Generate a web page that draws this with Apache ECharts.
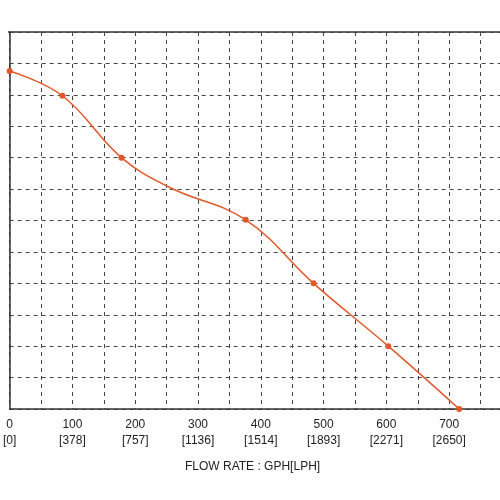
<!DOCTYPE html>
<html>
<head>
<meta charset="utf-8">
<script src="https://cdn.jsdelivr.net/npm/echarts@6/dist/echarts.min.js"></script>
<style>html,body{margin:0;padding:0;background:#fff}#c{width:500px;height:500px}</style>
</head>
<body>
<div id="c"></div>
<script>
// flow rate GPH and head values (grid units)
var flowGph = [0, 84, 178, 255, 376, 484, 603, 716];
var headVals = [10.76, 9.97, 8.0, 7.05, 6.02, 4.0, 2.0, 0];
var markedPts = [true, true, true, false, true, true, true, true];
var gphTicks = [0, 100, 200, 300, 400, 500, 600, 700, 800];
var lphTicks = ['0', '378', '757', '1136', '1514', '1893', '2271', '2650', '3028'];

var data = [];
for (var i = 0; i < flowGph.length; i++) {
  data.push({ value: [flowGph[i], headVals[i]], symbolSize: markedPts[i] ? 6 : 0 });
}

var chart = echarts.init(document.getElementById('c'));
chart.setOption({
  animation: false,
  grid: { left: 8, right: 0, top: 32, bottom: 91 },
  xAxis: {
    type: 'value', min: 0, max: 781, interval: 50,
    axisLine: { lineStyle: { color: '#333', width: 1.5 } },
    axisTick: { show: false },
    splitLine: { lineStyle: { color: '#444', type: [4, 4] } },
    axisLabel: {
      margin: 8, color: '#222', fontSize: 12, fontFamily: 'Liberation Sans', lineHeight: 16,
      showMaxLabel: false,
      formatter: function (v) {
        var k = gphTicks.indexOf(v);
        return k < 0 ? '' : v + '\n[' + lphTicks[k] + ']';
      }
    }
  },
  yAxis: {
    type: 'value', min: 0, max: 12, interval: 1,
    axisLine: { show: true, lineStyle: { color: '#333', width: 1.5 } },
    axisTick: { show: false },
    axisLabel: { show: false },
    splitLine: { lineStyle: { color: '#444', type: [4, 4] } }
  },
  graphic: [
    { type: 'line', shape: { x1: 8, y1: 32, x2: 500, y2: 32 }, style: { stroke: '#333', lineWidth: 1.5 } },
    { type: 'text', left: 185, top: 461, style: { text: 'FLOW RATE : GPH[LPH]', fontSize: 12, fill: '#222', fontFamily: 'Liberation Sans' } }
  ],
  series: [{
    type: 'line', smooth: 0.4, data: data, symbol: 'circle',
    itemStyle: { color: '#e0582a' },
    lineStyle: { color: '#e0582a', width: 1.5 }
  }]
});
</script>
</body>
</html>
